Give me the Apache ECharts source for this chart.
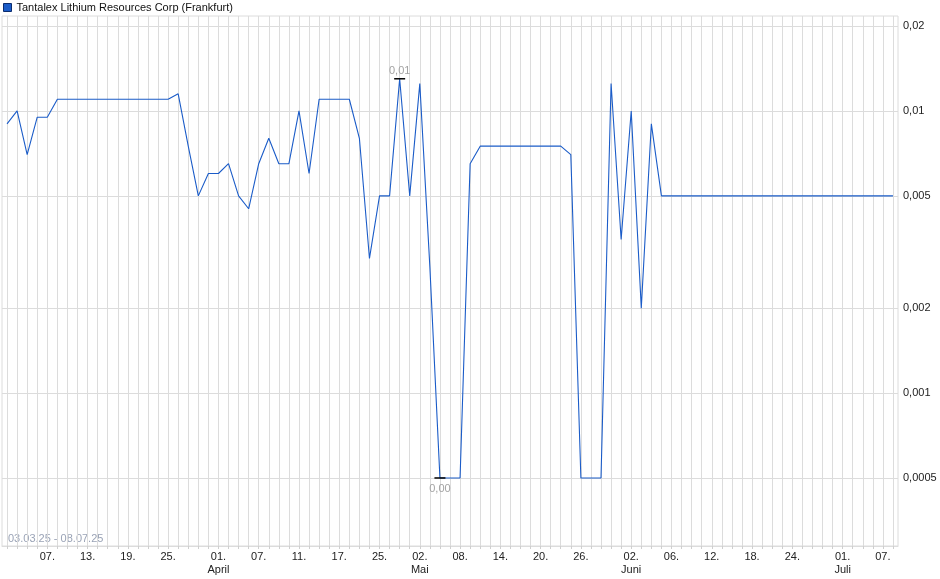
<!DOCTYPE html>
<html><head><meta charset="utf-8">
<script src="https://cdn.jsdelivr.net/npm/echarts@6/dist/echarts.min.js"></script>
<style>html,body{margin:0;padding:0;background:#fff}#c{width:940px;height:579px}</style>
</head><body><div id="c"></div>
<script>
const seriesName = 'Tantalex Lithium Resources Corp (Frankfurt)';
const dates = [
 '2025-03-03','2025-03-04','2025-03-05','2025-03-06','2025-03-07','2025-03-10','2025-03-11','2025-03-12','2025-03-13','2025-03-14',
 '2025-03-17','2025-03-18','2025-03-19','2025-03-20','2025-03-21','2025-03-24','2025-03-25','2025-03-26','2025-03-27','2025-03-28','2025-03-31',
 '2025-04-01','2025-04-02','2025-04-03','2025-04-04','2025-04-07','2025-04-08','2025-04-09','2025-04-10','2025-04-11','2025-04-14',
 '2025-04-15','2025-04-16','2025-04-17','2025-04-22','2025-04-23','2025-04-24','2025-04-25','2025-04-28','2025-04-29','2025-04-30',
 '2025-05-02','2025-05-05','2025-05-06','2025-05-07','2025-05-08','2025-05-09','2025-05-12','2025-05-13','2025-05-14','2025-05-15',
 '2025-05-16','2025-05-19','2025-05-20','2025-05-21','2025-05-22','2025-05-23','2025-05-26','2025-05-27','2025-05-28','2025-05-29','2025-05-30',
 '2025-06-02','2025-06-03','2025-06-04','2025-06-05','2025-06-06','2025-06-09','2025-06-10','2025-06-11','2025-06-12','2025-06-13',
 '2025-06-16','2025-06-17','2025-06-18','2025-06-19','2025-06-20','2025-06-23','2025-06-24','2025-06-25','2025-06-26','2025-06-27','2025-06-30',
 '2025-07-01','2025-07-02','2025-07-03','2025-07-04','2025-07-07','2025-07-08'
];
const prices = [
 0.009, 0.01, 0.007, 0.0095, 0.0095, 0.011, 0.011, 0.011, 0.011, 0.011,
 0.011, 0.011, 0.011, 0.011, 0.011, 0.011, 0.011, 0.0115, 0.0075, 0.005, 0.006,
 0.006, 0.0065, 0.005, 0.0045, 0.0065, 0.008, 0.0065, 0.0065, 0.01, 0.006,
 0.011, 0.011, 0.011, 0.011, 0.008, 0.003, 0.005, 0.005, 0.013, 0.005,
 0.0125, 0.0028, 0.0005, 0.0005, 0.0005, 0.0065, 0.0075, 0.0075, 0.0075, 0.0075,
 0.0075, 0.0075, 0.0075, 0.0075, 0.0075, 0.007, 0.0005, 0.0005, 0.0005, 0.0125, 0.0035,
 0.01, 0.002, 0.009, 0.005, 0.005, 0.005, 0.005, 0.005, 0.005, 0.005,
 0.005, 0.005, 0.005, 0.005, 0.005, 0.005, 0.005, 0.005, 0.005, 0.005, 0.005,
 0.005, 0.005, 0.005, 0.005, 0.005, 0.005
];
const yTicks = [0.0005, 0.001, 0.002, 0.005, 0.01, 0.02];
const yTickLabels = ['0,0005', '0,001', '0,002', '0,005', '0,01', '0,02'];
const monthNames = {'04': 'April', '05': 'Mai', '06': 'Juni', '07': 'Juli'};

const FONT = "'Liberation Sans', Arial, sans-serif";
const posInMonth = [];
let cnt = 0;
dates.forEach((d, i) => {
  if (i > 0 && d.slice(5, 7) !== dates[i - 1].slice(5, 7)) cnt = 0;
  posInMonth.push(cnt); cnt++;
});
const shortDate = d => d.slice(8, 10) + '.' + d.slice(5, 7) + '.' + d.slice(2, 4);

const chart = echarts.init(document.getElementById('c'), null, {renderer: 'canvas'});
chart.setOption({
  animation: false,
  textStyle: {fontFamily: FONT},
  legend: {
    data: [seriesName], left: 0, top: 0, padding: [2, 3],
    icon: 'rect', itemWidth: 8, itemHeight: 8, itemGap: 4,
    textStyle: {fontSize: 11, color: '#111', fontFamily: FONT},
    itemStyle: {borderColor: '#0b2c6e', borderWidth: 1}
  },
  grid: {left: 2, right: 42, top: 16, bottom: 33, show: true, borderColor: '#dcdcdc', borderWidth: 1, containLabel: false},
  graphic: [{
    type: 'text', left: 8, top: 533,
    style: {text: shortDate(dates[0]) + ' - ' + shortDate(dates[dates.length - 1]), fill: '#9aa3b6', fontSize: 11, fontFamily: FONT}
  }],
  xAxis: {
    type: 'category', data: dates, boundaryGap: true,
    axisLine: {show: true, lineStyle: {color: '#dcdcdc'}},
    axisTick: {show: true, interval: 0, alignWithLabel: true, length: 3, lineStyle: {color: '#cfcfcf'}},
    splitLine: {show: true, interval: 0, alignWithLabel: true, lineStyle: {color: '#dcdcdc', width: 1}},
    axisLabel: {
      interval: (idx) => idx > 0 && posInMonth[idx] % 4 === 0 && posInMonth[idx] <= 16,
      formatter: (val, idx) => {
        let s = val.slice(8, 10) + '.';
        if (idx > 0 && posInMonth[idx] === 0) s += '\n' + (monthNames[val.slice(5, 7)] || '');
        return s;
      },
      fontSize: 11, color: '#222', margin: 4, lineHeight: 13, fontFamily: FONT
    }
  },
  yAxis: {
    type: 'log', position: 'right', min: 0.000287, max: 0.0217,
    axisLine: {show: false}, axisTick: {show: false}, axisLabel: {show: false}, splitLine: {show: false}
  },
  series: [
    {
      name: seriesName, type: 'line', data: prices, z: 3,
      showSymbol: false, symbol: 'none',
      lineStyle: {color: '#1b5cc8', width: 1.1},
      itemStyle: {color: '#1b5cc8'},
      markLine: {
        silent: true, symbol: ['none', 'none'], animation: false, z: 1, precision: 6,
        lineStyle: {color: '#dcdcdc', width: 1, type: 'solid'},
        label: {show: true, position: 'end', formatter: '{b}', color: '#222', fontSize: 11, distance: 5, fontFamily: FONT},
        emphasis: {disabled: true},
        data: yTicks.map((v, i) => ({yAxis: v, name: yTickLabels[i]}))
      },
      markPoint: {
        symbol: 'rect', symbolSize: [11, 1.5], animation: false,
        itemStyle: {color: '#000'},
        data: [
          {type: 'max', label: {position: 'top', distance: 2}},
          {type: 'min', label: {position: 'bottom', distance: 5}}
        ],
        label: {show: true, color: '#a3a3a3', fontSize: 11, fontFamily: FONT,
          formatter: p => p.value.toFixed(2).replace('.', ',')}
      }
    }
  ]
});
</script></body></html>
